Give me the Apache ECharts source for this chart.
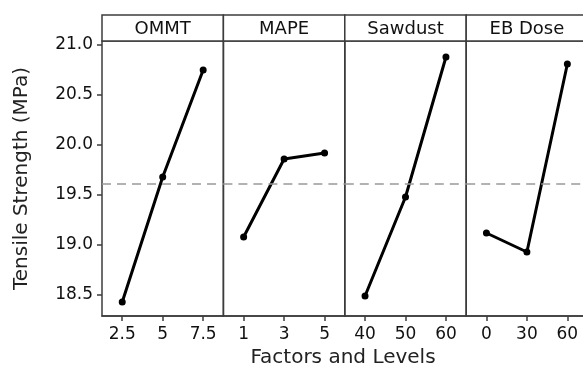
<!DOCTYPE html>
<html><head><meta charset="utf-8">
<script src="https://cdn.jsdelivr.net/npm/echarts@6/dist/echarts.min.js"></script>
<style>html,body{margin:0;padding:0;background:#fff}#c{width:583px;height:375px}</style>
</head><body><div id="c"></div>
<script>
const factors = ["OMMT", "MAPE", "Sawdust", "EB Dose"];
const levels = [["2.5","5","7.5"],["1","3","5"],["40","50","60"],["0","30","60"]];
const ommt = [18.43, 19.68, 20.75];
const mape = [19.08, 19.86, 19.92];
const sawdust = [18.49, 19.48, 20.88];
const ebDose = [19.12, 18.93, 20.81];
const grandMean = 19.61;
const yTicks = [18.5, 19.0, 19.5, 20.0, 20.5, 21.0];
const yTitle = "Tensile Strength (MPa)";
const xTitle = "Factors and Levels";
const values = [ommt, mape, sawdust, ebDose];

const FONT = "DejaVu Sans";
const L0 = 102, PW = 121.4, TOP = 41, BOT = 316, HTOP = 15;
const border = "#3c3c3c";
const grids = [], xAxes = [], yAxes = [], series = [], graphics = [];
factors.forEach((f, i) => {
  const left = L0 + i * PW;
  grids.push({left: left, width: PW, top: TOP, height: BOT - TOP, show: true, borderColor: border, borderWidth: 1.5, backgroundColor: "transparent", outerBoundsMode: "none", containLabel: false});
  xAxes.push({type: "category", gridIndex: i, data: levels[i], boundaryGap: true,
    axisLine: {show: true, lineStyle: {color: border, width: 1.5}},
    axisTick: {show: true, alignWithLabel: true, length: 5, lineStyle: {color: border, width: 1.5}},
    axisLabel: {color: "#111", fontFamily: FONT, fontSize: 17, margin: 10},
    splitLine: {show: false}});
  yAxes.push({type: "value", gridIndex: i, min: 18.29, max: 21.04,
    axisLine: {show: false},
    axisTick: {show: i === 0, length: 5, customValues: yTicks, lineStyle: {color: border, width: 1.5}},
    axisLabel: {show: i === 0, customValues: yTicks, color: "#111", fontFamily: FONT, fontSize: 17, margin: 9, formatter: v => v.toFixed(1)},
    splitLine: {show: false},
    name: i === 0 ? yTitle : "", nameLocation: "middle", nameGap: 70,
    nameTextStyle: {color: "#222", fontFamily: FONT, fontSize: 20}});
  series.push({type: "line", xAxisIndex: i, yAxisIndex: i, data: values[i],
    lineStyle: {color: "#000", width: 3}, itemStyle: {color: "#000"},
    symbol: "circle", symbolSize: 7, animation: false,
    markLine: {silent: true, symbol: "none", label: {show: false},
      lineStyle: {color: "#999", type: [9, 6], width: 1.5},
      data: [{yAxis: grandMean}]}});
  graphics.push({type: "rect", shape: {x: left, y: HTOP, width: PW, height: TOP - HTOP},
    style: {fill: "#fff", stroke: border, lineWidth: 1.5}});
  graphics.push({type: "text", x: left + PW / 2, y: (HTOP + TOP) / 2 + 1,
    style: {text: f, fill: "#111", font: "18px '" + FONT + "'", textAlign: "center", textVerticalAlign: "middle"}});
});
graphics.push({type: "text", x: 343, y: 358,
  style: {text: xTitle, fill: "#222", font: "20px '" + FONT + "'", textAlign: "center", textVerticalAlign: "middle"}});

const chart = echarts.init(document.getElementById("c"), null, {renderer: "canvas"});
chart.setOption({animation: false, grid: grids, xAxis: xAxes, yAxis: yAxes, series: series, graphic: graphics});
</script></body></html>
